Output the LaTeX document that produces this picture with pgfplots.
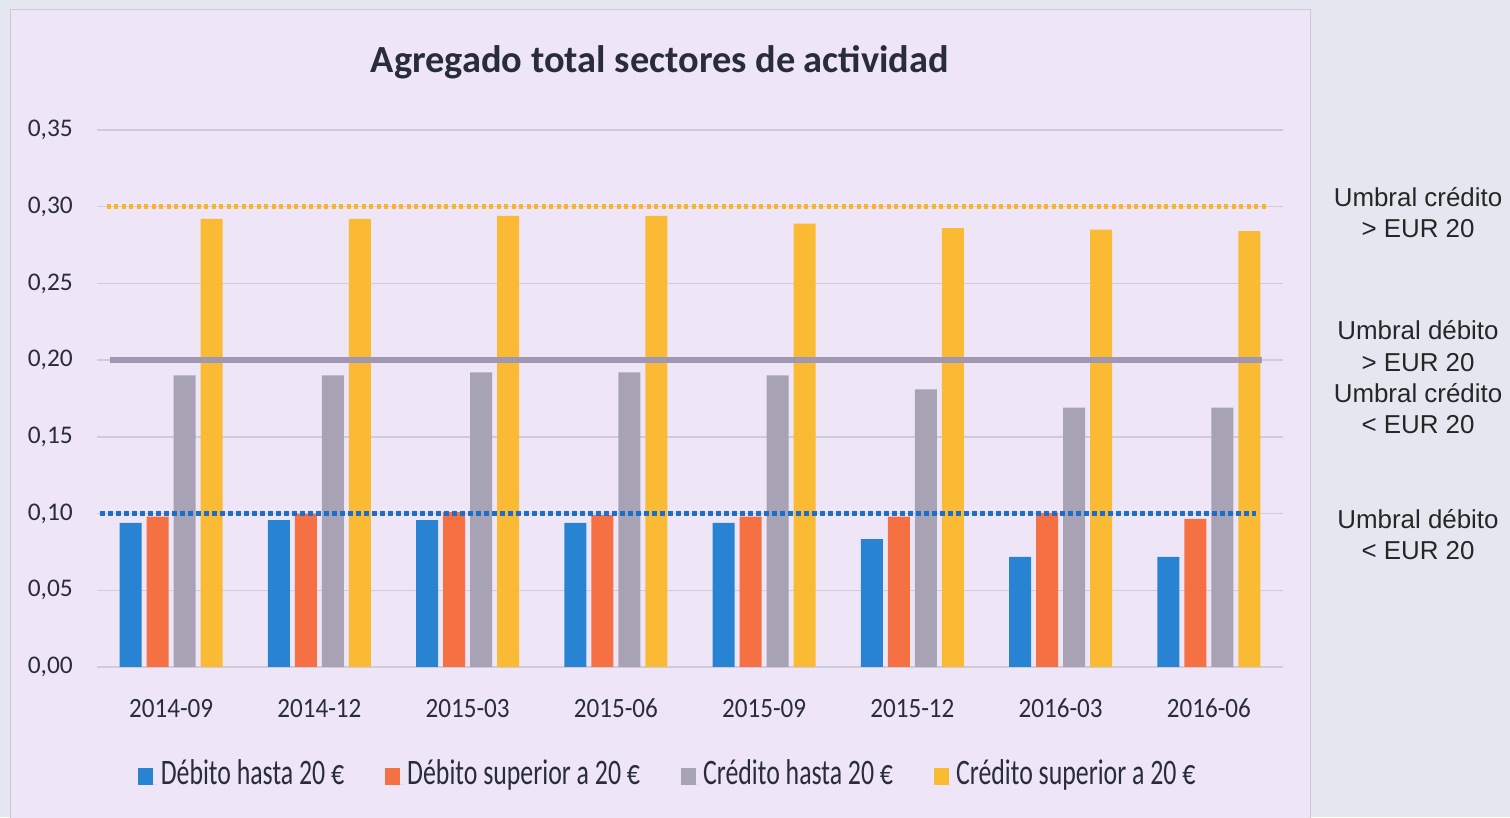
\documentclass[border=0pt]{standalone}
\usepackage{fontspec}
\setmainfont{Carlito}
\newfontfamily\arialf{Liberation Sans}
\newfontfamily\legfont[FakeStretch=0.72]{Carlito}
\newfontfamily\xtfont[FakeStretch=0.9]{Carlito}
\usepackage{pgfplots}
\pgfplotsset{compat=1.18}
\definecolor{bgout}{RGB}{229,231,240}
\definecolor{panel}{RGB}{238,230,247}
\definecolor{cblue}{RGB}{40,132,210}
\definecolor{corange}{RGB}{245,112,66}
\definecolor{cgray}{RGB}{168,163,180}
\definecolor{cyellow}{RGB}{251,186,52}
\definecolor{gridc}{RGB}{208,203,218}
\definecolor{txt}{RGB}{40,44,60}
\definecolor{gline}{RGB}{160,152,178}
\definecolor{yline}{RGB}{250,180,40}
\definecolor{bline}{RGB}{30,110,200}
\begin{document}
\begin{tikzpicture}[x=1bp,y=1bp]
\useasboundingbox (0,0) rectangle (1510,817);
\fill[bgout] (0,0) rectangle (1510,817);
\fill[panel] (10,-2) rectangle (1310,807);
\draw[gray!40, line width=1bp] (10,-2) -- (10,807) -- (1310,807) -- (1310,-2);
\node[font=\fontsize{38.5}{44}\selectfont\bfseries, text=txt] at (660,755) {Agregado total sectores de actividad};
\begin{axis}[
  at={(97bp,150bp)}, anchor=south west,
  scale only axis, width=1186bp, height=537bp,
  xmin=-0.5, xmax=7.5, ymin=0, ymax=0.35,
  axis line style={draw=none},
  ymajorgrids, grid style={gridc, line width=1.5bp},
  major tick length=0,
  ytick={0,0.05,0.1,0.15,0.2,0.25,0.3,0.35},
  scaled y ticks=false,
  xtick={0,1,2,3,4,5,6,7},
  xticklabels={2014-09,2014-12,2015-03,2015-06,2015-09,2015-12,2016-03,2016-06},
  /pgf/number format/fixed, /pgf/number format/fixed zerofill,
  /pgf/number format/precision=2, /pgf/number format/use comma,
  /pgf/number format/assume math mode=true,
  tick label style={text=txt, inner sep=0pt},
  yticklabel style={font=\fontsize{25.5}{30}\selectfont, anchor=east, xshift=-24bp},
  xticklabel style={font=\xtfont\fontsize{28}{32}\selectfont, anchor=base, yshift=-51bp},
  mybar/.style={ybar, bar width=22bp, draw=none, fill=#1,
    legend image code/.code={\fill[fill=#1] (0bp,0bp) rectangle (15bp,17bp); \path (0bp,0bp) -- (19bp,0bp);}},
  legend columns=4,
  legend style={draw=none, fill=none, font=\legfont\fontsize{36}{40}\selectfont, text=txt,
    at={(0.482,-0.1974)}, anchor=center,
    nodes={inner xsep=3.5bp, inner ysep=0pt, anchor=base},
    /tikz/every even column/.append style={column sep=37bp}},
]
\addplot[mybar=cblue, bar shift=-40.5bp] coordinates {(0,0.094) (1,0.0958) (2,0.0958) (3,0.094) (4,0.094) (5,0.0834) (6,0.0717) (7,0.0717)};
\addlegendentry{Débito hasta 20 €}
\addplot[mybar=corange, bar shift=-13.5bp] coordinates {(0,0.098) (1,0.100) (2,0.101) (3,0.099) (4,0.098) (5,0.098) (6,0.1004) (7,0.0965)};
\addlegendentry{Débito superior a 20 €}
\addplot[mybar=cgray, bar shift=13.5bp] coordinates {(0,0.190) (1,0.190) (2,0.192) (3,0.192) (4,0.190) (5,0.181) (6,0.169) (7,0.169)};
\addlegendentry{Crédito hasta 20 €}
\addplot[mybar=cyellow, bar shift=40.5bp] coordinates {(0,0.292) (1,0.292) (2,0.294) (3,0.294) (4,0.289) (5,0.286) (6,0.285) (7,0.284)};
\addlegendentry{Crédito superior a 20 €}
\addplot[forget plot, yline, line width=5bp, dash pattern=on 4bp off 3.5bp] coordinates {(-0.433,0.30) (7.399,0.30)};
\addplot[forget plot, gline, line width=6bp] coordinates {(-0.412,0.20) (7.358,0.20)};
\addplot[forget plot, bline, line width=5bp, dash pattern=on 5bp off 3bp] coordinates {(-0.48,0.10) (7.32,0.10)};
\end{axis}
\node[align=center, font=\arialf\fontsize{26}{31}\selectfont, text=black!85] at (1418,604.5) {Umbral crédito\\> EUR 20};
\node[align=center, font=\arialf\fontsize{26}{31.5}\selectfont, text=black!85] at (1418,439.5) {Umbral débito\\> EUR 20\\Umbral crédito\\< EUR 20};
\node[align=center, font=\arialf\fontsize{26}{31}\selectfont, text=black!85] at (1418,282.5) {Umbral débito\\< EUR 20};
\end{tikzpicture}
\end{document}
